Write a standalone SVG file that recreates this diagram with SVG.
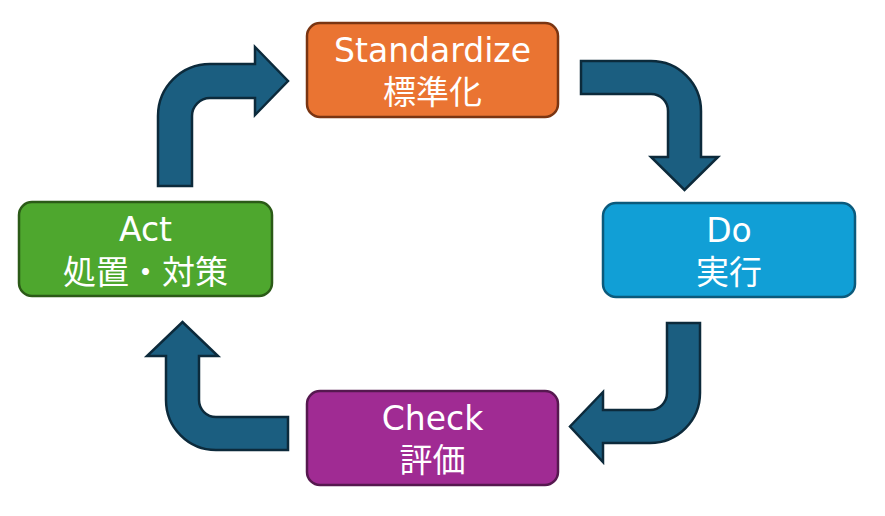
<svg xmlns="http://www.w3.org/2000/svg" width="885" height="516" viewBox="0 0 885 516">
<style>
.arrow{fill:#1b5e80;stroke:#0c2a3b;stroke-width:2.5;stroke-linejoin:miter}
.box{stroke-width:2.5}
.t{fill:#ffffff;font-family:"DejaVu Sans","Noto Sans CJK JP",sans-serif;text-anchor:middle}
.en{font-size:33px}
.ja{font-size:33px}
</style>
<rect width="885" height="516" fill="#ffffff"/>
<g id="connectors">
<path class="arrow" d="M158,186 L158,116 A52,52 0 0 1 210,64 L255,64 L255,47 L288,81 L255,115 L255,98 L210,98 A18,18 0 0 0 192,116 L192,186 Z"/>
<path class="arrow" d="M581,61 L651,61 A50,50 0 0 1 701,111 L701,157 L718,157 L684.5,190 L651,157 L668,157 L668,111 A17,17 0 0 0 651,94 L581,94 Z"/>
<path class="arrow" d="M667,323 L700,323 L700,393 A50,50 0 0 1 650,443 L603,443 L603,462 L570,426.5 L603,392 L603,410 L650,410 A17,17 0 0 0 667,393 Z"/>
<path class="arrow" d="M288,417 L288,450 L216,450 A50,50 0 0 1 166,400 L166,356 L147,356 L182.5,322 L218,356 L199,356 L199,400 A17,17 0 0 0 216,417 Z"/>
</g>
<g id="standardize">
<rect class="box" x="307" y="23" width="251" height="94" rx="13" fill="#ea7432" stroke="#7a3512"/>
<text class="t en" x="432.5" y="62">Standardize</text>
<text class="t ja" x="432.5" y="104">標準化</text>
</g>
<g id="do">
<rect class="box" x="603" y="203" width="252" height="94" rx="13" fill="#119fd6" stroke="#0b5a7c"/>
<text class="t en" x="729" y="242">Do</text>
<text class="t ja" x="729" y="284">実行</text>
</g>
<g id="check">
<rect class="box" x="307" y="391" width="251" height="94" rx="13" fill="#a02b93" stroke="#56184f"/>
<text class="t en" x="432.5" y="430">Check</text>
<text class="t ja" x="432.5" y="472">評価</text>
</g>
<g id="act">
<rect class="box" x="19" y="202" width="253" height="94" rx="13" fill="#4ea72e" stroke="#2b5a17"/>
<text class="t en" x="145.5" y="241">Act</text>
<text class="t ja" x="145.5" y="284">処置・対策</text>
</g>
</svg>
